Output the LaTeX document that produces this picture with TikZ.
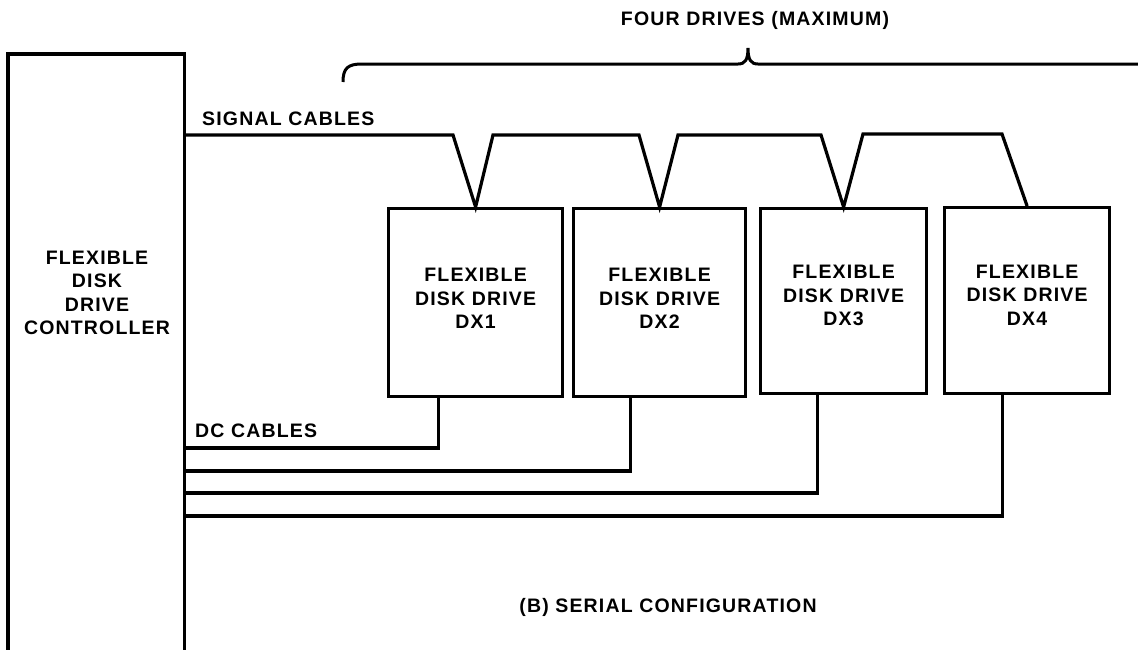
\documentclass[tikz,border=0pt]{standalone}
\usepackage{fontspec}
\newfontfamily\lblfont[LetterSpace=6]{Liberation Sans}
\begin{document}
\begin{tikzpicture}[x=1pt,y=-1pt]
\tikzset{
  wire/.style={line width=3.2pt, line join=miter},
  drivebox/.style={draw, line width=3.2pt, inner sep=0pt, anchor=north west},
  lbl/.style={font=\lblfont\bfseries\fontsize{19.5}{23.5}\selectfont, align=center, inner sep=0pt},
}
\useasboundingbox[fill=white] (0,0) rectangle (1138,649);
% controller
\node[inner sep=0pt, minimum width=176pt, minimum height=600pt, anchor=north west] (ctrl) at (8,54) {};
\draw[wire] (ctrl.south west) |- (ctrl.north east) -- (ctrl.south east);
\node[lbl] (ctrltxt) at (97,293) {FLEXIBLE\\DISK\\DRIVE\\CONTROLLER};
% drives
\node[drivebox, minimum width=174pt, minimum height=188pt] (dx1) at (387,207) {};
\node[drivebox, minimum width=172pt, minimum height=188pt] (dx2) at (572,207) {};
\node[drivebox, minimum width=166pt, minimum height=185pt] (dx3) at (759,207) {};
\node[drivebox, minimum width=165pt, minimum height=186pt] (dx4) at (943,206) {};
\node[lbl, yshift=4pt] (t1) at (dx1.center) {FLEXIBLE\\DISK DRIVE\\DX1};
\node[lbl, yshift=4pt] (t2) at (dx2.center) {FLEXIBLE\\DISK DRIVE\\DX2};
\node[lbl, yshift=5.5pt] (t3) at (dx3.center) {FLEXIBLE\\DISK DRIVE\\DX3};
\node[lbl, yshift=5.5pt] (t4) at (dx4.center) {FLEXIBLE\\DISK DRIVE\\DX4};
% signal cable
\coordinate (sig) at (184,135);
\coordinate (a1) at (453,135);
\coordinate (b1) at (493,135);
\coordinate (a2) at (639,135);
\coordinate (b2) at (678,135);
\coordinate (a3) at (821,135);
\coordinate (b3) at (863,134);
\coordinate (a4) at (1002,134);
\draw[wire] (sig) -- (a1) -- (dx1.north) -- (b1) -- (a2) -- (dx2.north) -- (b2) -- (a3) -- (dx3.north) -- (b3) -- (a4) -- (dx4.north);
% dc cables
\coordinate (dc1) at (184,448);
\coordinate (dc2) at (184,471);
\coordinate (dc3) at (184,493);
\coordinate (dc4) at (184,516);
\draw[wire] (dc1) -| ([xshift=-37pt]dx1.south);
\draw[wire] (dc2) -| ([xshift=-29pt]dx2.south);
\draw[wire] (dc3) -| ([xshift=-26pt]dx3.south);
\draw[wire] (dc4) -| ([xshift=-24.5pt]dx4.south);
% brace
\draw[line width=3pt] (343,82) .. controls (343,68) and (348,64) .. (362,64) -- (738,64) .. controls (745,64) and (748,60) .. (748,48) .. controls (748,60) and (751,64) .. (758,64) -- (1145,64);
% labels
\node[lbl, anchor=base west] (sigl) at (202,125) {SIGNAL CABLES};
\node[lbl, anchor=base west] (dcl) at (195,437) {DC CABLES};
\node[lbl, anchor=base] (four) at (755,25) {FOUR DRIVES (MAXIMUM)};
\node[lbl, anchor=base] (capt) at (668,612) {(B) SERIAL CONFIGURATION};
\end{tikzpicture}
\end{document}
